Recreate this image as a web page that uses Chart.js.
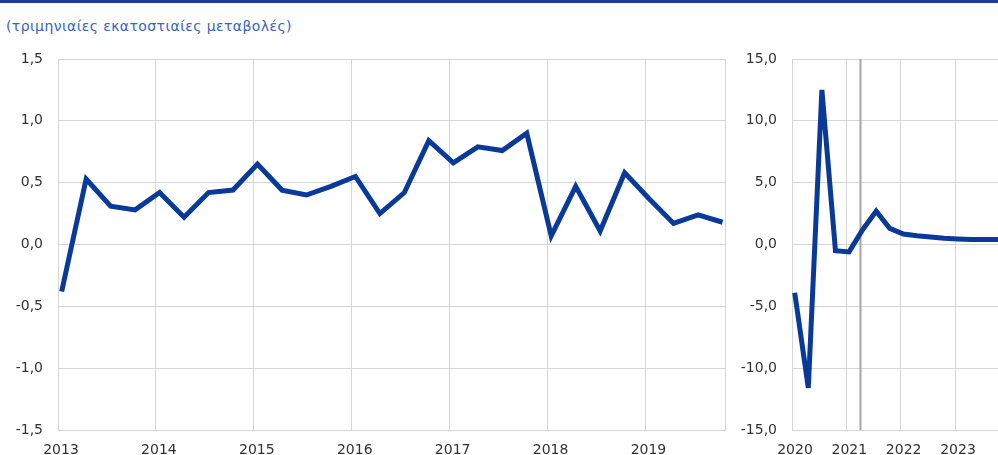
<!DOCTYPE html>
<html>
<head>
<meta charset="utf-8">
<script src="https://cdn.jsdelivr.net/npm/chart.js@4.4.1/dist/chart.umd.min.js"></script>
<style>
  html, body { margin: 0; padding: 0; background: #fff; width: 998px; height: 455px; overflow: hidden; position: relative; }
  #topbar { position: absolute; left: 0; top: 0; width: 998px; height: 3px; background: #1b3f94; }
  #sub { position: absolute; left: 6px; top: 18px; font: 14px "DejaVu Sans", sans-serif; letter-spacing: 0.4px; color: #3a64b8; white-space: nowrap; }
  #c1 { position: absolute; left: 0; top: 0; }
  #c2 { position: absolute; left: 740px; top: 0; }
</style>
</head>
<body>
<div id="topbar"></div>
<div id="sub">(τριμηνιαίες εκατοστιαίες μεταβολές)</div>
<canvas id="c1" width="740" height="455"></canvas>
<canvas id="c2" width="280" height="455"></canvas>
<script>
// quarterly % changes, 2013Q1 - 2019Q4
const yearsPast = ['2013', '2014', '2015', '2016', '2017', '2018', '2019'];
const growthPast = [-0.38, 0.53, 0.31, 0.28, 0.42, 0.22, 0.42, 0.44,
                    0.65, 0.44, 0.40, 0.47, 0.55, 0.25, 0.42, 0.84,
                    0.66, 0.79, 0.76, 0.90, 0.07, 0.47, 0.11, 0.58,
                    0.37, 0.17, 0.24, 0.18];
const ticksPast = [-1.5, -1.0, -0.5, 0.0, 0.5, 1.0, 1.5];

// 2020Q1 - 2023Q4 (projections from 2021Q2)
const yearsProj = ['2020', '2021', '2022', '2023'];
const growthProj = [-3.9, -11.6, 12.5, -0.5, -0.6, 1.2, 2.7, 1.3,
                    0.85, 0.7, 0.6, 0.5, 0.45, 0.4, 0.4, 0.4];
const ticksProj = [-15, -10, -5, 0, 5, 10, 15];
const projStart = 5; // index of 2021Q2

const lineBlue = '#0a3a99';
const gridGrey = '#d6d6d6';

Chart.defaults.font.family = '"DejaVu Sans", sans-serif';
Chart.defaults.font.size = 14;
Chart.defaults.color = '#333';

const fmt = v => v.toFixed(1).replace('.', ',');

function makeChart(id, years, values, yTicks, shift, xMax, yWidth, padRight, plugins) {
  return new Chart(document.getElementById(id), {
    type: 'line',
    data: {
      datasets: [{
        data: values.map((v, i) => ({ x: i, y: v })),
        borderColor: lineBlue, borderWidth: 5, pointRadius: 0, tension: 0, fill: false
      }]
    },
    options: {
      responsive: false, animation: false,
      layout: { padding: { top: 59, right: padRight, left: 0, bottom: 0 } },
      plugins: { legend: { display: false }, tooltip: { enabled: false } },
      scales: {
        x: {
          type: 'linear', min: -shift, max: xMax,
          afterBuildTicks: s => {
            s.ticks = years.map((y, k) => ({ value: k * 4 - shift }));
            s.ticks.push({ value: xMax });
          },
          afterFit: s => { s.height = 25; },
          grid: { color: gridGrey, drawTicks: false },
          border: { color: gridGrey },
          ticks: { autoSkip: false, maxRotation: 0, padding: 12, labelOffset: 3,
                   callback: (v, i) => years[i] || '' }
        },
        y: {
          min: yTicks[0], max: yTicks[yTicks.length - 1],
          afterBuildTicks: s => { s.ticks = yTicks.map(v => ({ value: v })); },
          afterFit: s => { s.width = yWidth; },
          grid: { color: gridGrey, drawTicks: false },
          border: { color: gridGrey },
          ticks: { padding: 15, callback: v => fmt(v) }
        }
      }
    },
    plugins: plugins || []
  });
}

const projMarker = {
  id: 'projMarker',
  beforeDatasetsDraw(chart) {
    const ctx = chart.ctx, a = chart.chartArea;
    const x = Math.round(chart.scales.x.getPixelForValue(projStart - 0.2)) + 0.5;
    ctx.save();
    ctx.strokeStyle = '#a6a6a6';
    ctx.lineWidth = 2;
    ctx.beginPath(); ctx.moveTo(x, a.top); ctx.lineTo(x, a.bottom); ctx.stroke();
    ctx.restore();
  }
};

makeChart('c1', yearsPast, growthPast, ticksPast, 0.15, 27.1, 58, 15);
makeChart('c2', yearsProj, growthProj, ticksProj, 0.2, 15.7, 52, 5, [projMarker]);
</script>
</body>
</html>
